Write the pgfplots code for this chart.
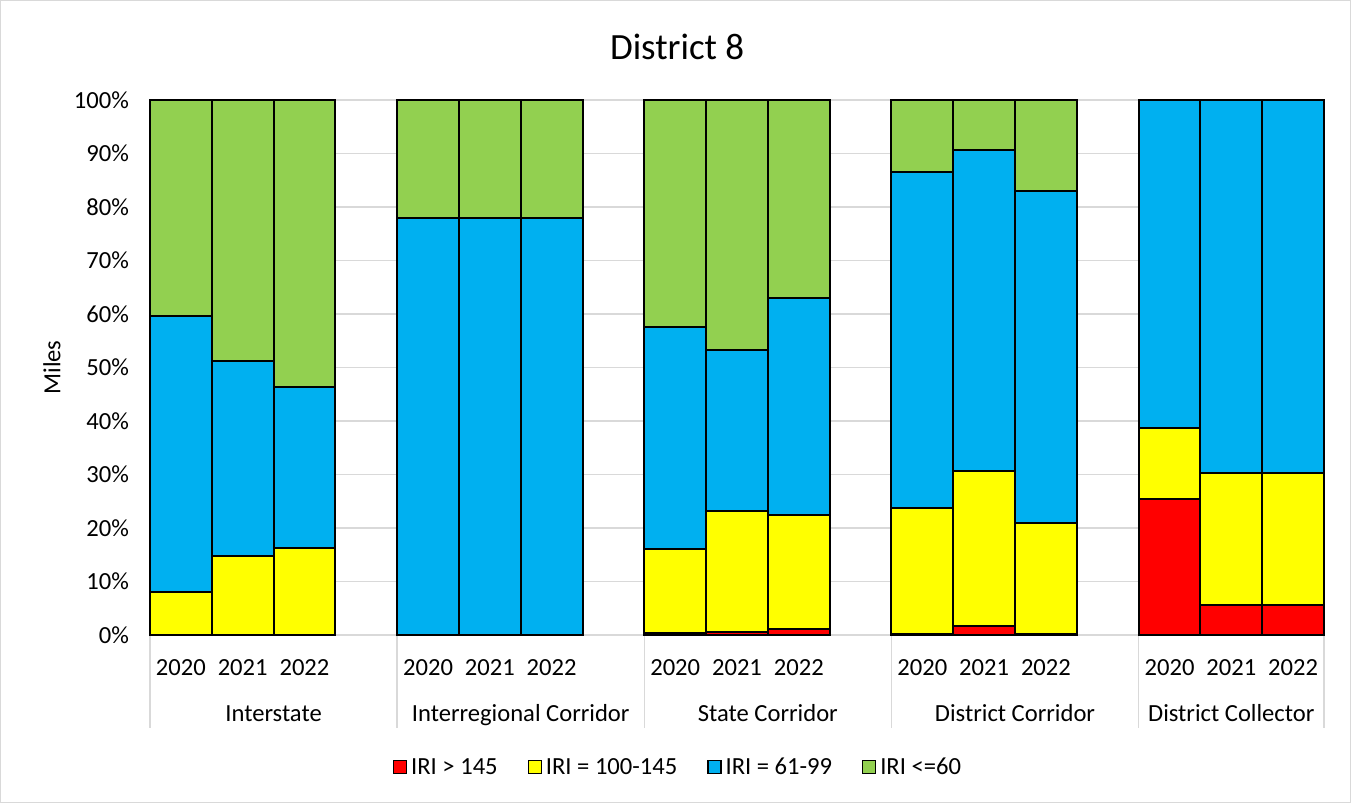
\documentclass[border=0pt]{standalone}
\usepackage{pgfplots}
\pgfplotsset{compat=1.18}
\usepackage{fontspec}
\setmainfont{Carlito}
\definecolor{cRed}{HTML}{FF0000}
\definecolor{cYel}{HTML}{FFFF00}
\definecolor{cBlu}{HTML}{00B0F0}
\definecolor{cGrn}{HTML}{92D050}
\definecolor{cGrid}{HTML}{D9D9D9}
\begin{document}
\begin{tikzpicture}
\draw[cGrid, line width=0.6pt, fill=white] (0.3pt,0.3pt) rectangle (675.2pt,401.2pt);
\begin{axis}[
  at={(75pt,84pt)}, anchor=south west,
  scale only axis, width=587pt, height=267.5pt,
  ybar stacked, bar width=1,
  xmin=-0.5, xmax=18.5, ymin=0, ymax=100,
  enlargelimits=false, clip=false,
  axis line style={draw=none},
  ymajorgrids, grid style={cGrid, line width=0.75pt},
  major tick length=0pt,
  ytick={0,10,...,100},
  yticklabels={0\%,10\%,20\%,30\%,40\%,50\%,60\%,70\%,80\%,90\%,100\%},
  yticklabel style={xshift=-7pt},
  xtick={0,1,2,4,5,6,8,9,10,12,13,14,16,17,18},
  xticklabels={2020,2021,2022,2020,2021,2022,2020,2021,2022,2020,2021,2022,2020,2021,2022},
  xticklabel style={anchor=center, yshift=-16.5pt},
  tick label style={font=\fontsize{12.3}{14}\selectfont},
  every axis y label/.style={at={(axis description cs:0,0.5)}, xshift=-49pt, rotate=90, anchor=center, font=\fontsize{12.3}{14}\selectfont},
  ylabel={Miles},
  title={District 8},
  title style={at={(axis description cs:0.449,1)}, anchor=center, yshift=20.5pt, font=\fontsize{18.5}{22}\selectfont},
  legend columns=4,
  legend style={at={(axis description cs:0.4506,-0.248)}, anchor=center, draw=none, fill=none,
    font=\fontsize{12.3}{14}\selectfont,
    /tikz/every even column/.append style={column sep=13pt}},
  legend image code/.code={\draw[#1, line width=0.6pt] (0pt,-3pt) rectangle (6.5pt,3.5pt);},
  every axis plot/.append style={draw=black, line width=1pt},
]
% red: IRI > 145
\addplot[fill=cRed] coordinates {(0,0) (1,0) (2,0) (4,0) (5,0) (6,0) (8,0.4) (9,0.5) (10,1.1) (12,0.2) (13,1.6) (14,0.2) (16,25.5) (17,5.6) (18,5.6)};
% yellow: 100-145
\addplot[fill=cYel] coordinates {(0,8.1) (1,14.7) (2,16.2) (4,0) (5,0) (6,0) (8,15.6) (9,22.7) (10,21.3) (12,23.6) (13,29.0) (14,20.7) (16,13.2) (17,24.7) (18,24.7)};
% blue: 61-99
\addplot[fill=cBlu] coordinates {(0,51.5) (1,36.6) (2,30.2) (4,78.0) (5,77.9) (6,77.9) (8,41.6) (9,30.1) (10,40.6) (12,62.7) (13,60.1) (14,62.0) (16,61.3) (17,69.7) (18,69.7)};
% green: <=60
\addplot[fill=cGrn] coordinates {(0,40.4) (1,48.7) (2,53.6) (4,22.0) (5,22.1) (6,22.1) (8,42.4) (9,46.7) (10,37.0) (12,13.5) (13,9.3) (14,17.1) (16,0) (17,0) (18,0)};
\legend{IRI > 145, IRI = 100-145, IRI = 61-99, IRI <=60}
% category separators and group labels
\pgfplotsinvokeforeach{-0.5,3.5,7.5,11.5,15.5,18.5}{
  \draw[cGrid, line width=0.75pt] (axis cs:#1,0) -- ([yshift=-46.5pt]axis cs:#1,0);
}
\node[font=\fontsize{12.3}{14}\selectfont, anchor=base] at ([yshift=-43.3pt]axis cs:1.5,0) {Interstate};
\node[font=\fontsize{12.3}{14}\selectfont, anchor=base] at ([yshift=-43.3pt]axis cs:5.5,0) {Interregional Corridor};
\node[font=\fontsize{12.3}{14}\selectfont, anchor=base] at ([yshift=-43.3pt]axis cs:9.5,0) {State Corridor};
\node[font=\fontsize{12.3}{14}\selectfont, anchor=base] at ([yshift=-43.3pt]axis cs:13.5,0) {District Corridor};
\node[font=\fontsize{12.3}{14}\selectfont, anchor=base] at ([yshift=-43.3pt]axis cs:17,0) {District Collector};
\end{axis}
\end{tikzpicture}
\end{document}
